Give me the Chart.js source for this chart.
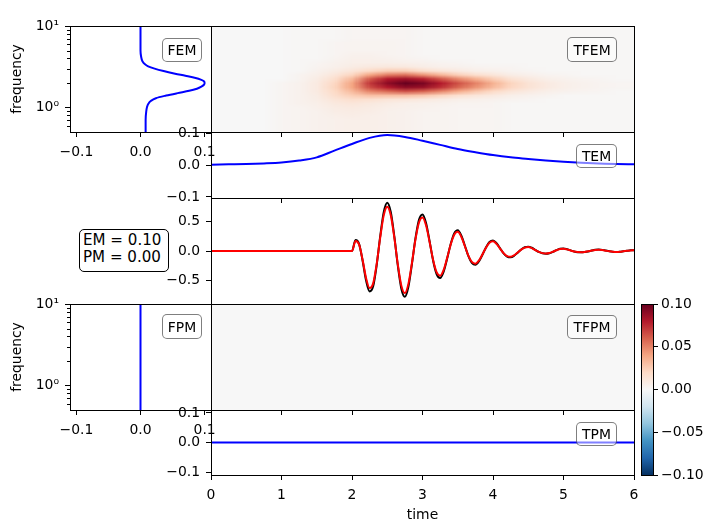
<!DOCTYPE html>
<html lang="en">
<head>
<meta charset="UTF-8">
<title>Time-frequency misfits</title>
<script src="https://cdn.jsdelivr.net/npm/chart.js"></script>
<style>
  body { margin: 0; background: #fff; font-family: 'DejaVu Sans', sans-serif; }
  #fig { position: relative; width: 704px; height: 528px; overflow: hidden; background: #fff; }
  .panel { position: absolute; }
  .tag {
    position: absolute; box-sizing: border-box;
    border: 1px solid rgba(0, 0, 0, 0.5); border-radius: 5px;
    background: rgba(255, 255, 255, 0.5);
    font-size: 13.9px; color: #000;
    display: flex; align-items: center; justify-content: center;
  }
  #misfit {
    position: absolute; left: 79px; top: 229px; width: 90px; height: 43px;
    box-sizing: border-box; border: 1px solid #000; border-radius: 5px;
    background: #fff; font-size: 15.1px; line-height: 16.8px;
    padding: 2px 0 0 3px; white-space: pre;
  }
</style>
</head>
<body>
<div id="fig">
  <div class="panel" style="left:0;top:0"><canvas id="fem" width="221" height="170"></canvas></div>
  <div class="panel" style="left:200px;top:0"><canvas id="tfem" width="454" height="140"></canvas></div>
  <div class="panel" style="left:150px;top:122px"><canvas id="tem" width="504" height="84"></canvas></div>
  <div class="panel" style="left:150px;top:188px"><canvas id="sig" width="504" height="124"></canvas></div>
  <div class="panel" style="left:0;top:278px"><canvas id="fpm" width="221" height="170"></canvas></div>
  <div class="panel" style="left:200px;top:278px"><canvas id="tfpm" width="454" height="140"></canvas></div>
  <div class="panel" style="left:150px;top:400px"><canvas id="tpm" width="520" height="128"></canvas></div>
  <div class="panel" style="left:630px;top:294px"><canvas id="cbar" width="74" height="190"></canvas></div>

  <div class="tag" style="left:162px;top:38px;width:40px;height:24px">FEM</div>
  <div class="tag" style="left:567px;top:37px;width:50px;height:25px">TFEM</div>
  <div class="tag" style="left:576px;top:144px;width:41px;height:24px">TEM</div>
  <div class="tag" style="left:162px;top:314px;width:40px;height:25px">FPM</div>
  <div class="tag" style="left:567px;top:315px;width:50px;height:24px">TFPM</div>
  <div class="tag" style="left:576px;top:422px;width:41px;height:24px">TPM</div>
  <div id="misfit">EM = 0.10
PM = 0.00</div>
</div>

<script>
  // ---- axes ----
  const timeTicks = [0, 1, 2, 3, 4, 5, 6];
  const timeTickLabels = ['0', '1', '2', '3', '4', '5', '6'];
  const misfitTicks = [-0.1, 0, 0.1];
  const misfitTickLabels = ['\u22120.1', '0.0', '0.1'];
  const sigTicks = [-0.5, 0, 0.5];
  const sigTickLabels = ['\u22120.5', '0.0', '0.5'];
  const freqMajorTicks = [1, 10];
  const freqMajorLabels = ['10\u2070', '10\u00b9'];
  const freqMinorTicks = [0.6, 0.7, 0.8, 0.9, 2, 3, 4, 5, 6, 7, 8, 9];
  const cbTicks = [-0.1, -0.05, 0, 0.05, 0.1];
  const cbTickLabels = ['\u22120.10', '\u22120.05', '0.00', '0.05', '0.10'];

  // RdBu_r
  const cmapStops = ['#053061', '#2166ac', '#4393c3', '#92c5de', '#d1e5f0', '#f7f7f7',
                     '#fddbc7', '#f4a582', '#d6604d', '#b2182b', '#67001f'];

  // ---- frequency envelope / phase misfit ----
  const femFreqs = [0.5, 0.7, 0.9, 1.0, 1.1, 1.2, 1.3, 1.4, 1.5, 1.6, 1.7, 1.8, 1.9, 2.0,
                    2.1, 2.2, 2.3, 2.45, 2.6, 2.8, 3.0, 3.2, 3.4, 3.7, 4.2, 5.0, 7.0, 10.0];
  const femValues = [0.008, 0.008, 0.009, 0.010, 0.012, 0.016, 0.024, 0.040, 0.058, 0.076, 0.088, 0.095, 0.099, 0.100,
                     0.099, 0.094, 0.086, 0.070, 0.054, 0.036, 0.022, 0.012, 0.007, 0.003, 0.001, 0.0, 0.0, 0.0];
  const fpmFreqs = [0.5, 10.0];
  const fpmValues = [0.0, 0.0];

  // ---- time envelope / phase misfit ----
  const temTimes = [0, 0.25, 0.5, 0.75, 1.0, 1.25, 1.5, 1.75, 2.0, 2.25, 2.5, 2.75, 3.0,
                    3.25, 3.5, 3.75, 4.0, 4.25, 4.5, 4.75, 5.0, 5.25, 5.5, 5.75, 6.0];
  const temValues = [0.001, 0.002, 0.003, 0.005, 0.008, 0.014, 0.024, 0.045, 0.066, 0.085, 0.094, 0.088, 0.076,
                     0.063, 0.050, 0.040, 0.031, 0.024, 0.019, 0.014, 0.010, 0.007, 0.005, 0.003, 0.002];
  const tpmTimes = [0, 6];
  const tpmValues = [0.0, 0.0];

  // ---- signals: quiet until 2 s, then sampled every 0.05 s ----
  const sigOnset = 2.0, sigStep = 0.05;
  const sigRed = [0,
    0, 0.170, 0.111, -0.148, -0.461, -0.630, -0.550, -0.221, 0.227, 0.605,
    0.752, 0.607, 0.230, -0.228, -0.588, -0.715, -0.558, -0.204, 0.195, 0.485,
    0.570, 0.437, 0.156, -0.147, -0.360, -0.420, -0.320, -0.116, 0.110, 0.275,
    0.325, 0.243, 0.085, -0.077, -0.186, -0.215, -0.162, -0.059, 0.056, 0.139,
    0.165, 0.121, 0.042, -0.037, -0.087, -0.098, -0.073, -0.026, 0.024, 0.058,
    0.068, 0.050, 0.017, -0.015, -0.036, -0.042, -0.034, -0.013, 0.013, 0.034,
    0.040, 0.028, 0.009, -0.008, -0.018, -0.020, -0.016, -0.006, 0.007, 0.018,
    0.022, 0.017, 0.006, -0.005, -0.012, -0.015, -0.012, -0.004, 0.004, 0.010,
    0.012];
  const sigBlack = [0,
    0, 0.185, 0.121, -0.161, -0.502, -0.687, -0.600, -0.241, 0.247, 0.659,
    0.820, 0.662, 0.251, -0.249, -0.641, -0.779, -0.608, -0.222, 0.213, 0.529,
    0.621, 0.476, 0.170, -0.160, -0.392, -0.458, -0.349, -0.126, 0.120, 0.300,
    0.354, 0.265, 0.093, -0.084, -0.203, -0.234, -0.177, -0.064, 0.061, 0.152,
    0.180, 0.132, 0.046, -0.040, -0.095, -0.107, -0.080, -0.028, 0.026, 0.063,
    0.074, 0.055, 0.019, -0.016, -0.039, -0.046, -0.037, -0.014, 0.014, 0.037,
    0.044, 0.031, 0.010, -0.009, -0.020, -0.022, -0.017, -0.007, 0.008, 0.020,
    0.024, 0.019, 0.007, -0.005, -0.013, -0.016, -0.013, -0.004, 0.004, 0.011,
    0.013];
  const sigTimes = sigRed.map((_, i) => i === 0 ? 0 : sigOnset + (i - 1) * sigStep);

  // ---- time-frequency envelope misfit: one column per time, rows from 0.5 Hz up to 10 Hz ----
  const tfTimes = temTimes;
  const tfFreqs = [0.5, 0.56, 0.63, 0.71, 0.79, 0.89, 1.0, 1.12, 1.26, 1.41, 1.58, 1.78, 2.0, 2.24,
                   2.51, 2.82, 3.16, 3.55, 3.98, 4.47, 5.01, 5.62, 6.31, 7.08, 7.94, 8.91, 10.0];
  const tfemCols = [
    [0,0,0,0,0,0,0,0,0,0,0,0,0,0,0,0,0,0,0,0,0,0,0,0,0,0,0],
    [0,0,0,0,0,0,0,0,0,0,0,0,0,0,0,0,0,0,0,0,0,0,0,0,0,0,0],
    [0,0,0,0,0,0,0,0,0,0,0,0,0,0,0,0,0,0,0,0,0,0,0,0,0,0,0],
    [0,0,0,0,0,0,0,0,0,0,0,0,0,0,0,0,0,0,0,0,0,0,0,0,0,0,0],
    [0.002,0.002,0.002,0.002,0.002,0.002,0.002,0.002,0.002,0.002,0.002,0.002,0.002,0,0,0,0,0,0,0,0,0,0,0,0,0,0],
    [0.003,0.003,0.003,0.003,0.003,0.003,0.003,0.004,0.004,0.004,0.004,0.004,0.004,0.003,0.003,0.001,0.001,0.001,0.001,0.001,0.001,0.001,0.001,0.001,0.001,0.001,0.001],
    [0.004,0.004,0.004,0.004,0.004,0.004,0.005,0.006,0.007,0.008,0.009,0.009,0.009,0.008,0.006,0.004,0.003,0.002,0.001,0.001,0.001,0.001,0.001,0.001,0.001,0.001,0.001],
    [0.005,0.005,0.005,0.005,0.006,0.007,0.008,0.010,0.013,0.017,0.020,0.022,0.021,0.017,0.012,0.008,0.005,0.004,0.003,0.002,0.002,0.002,0.002,0.001,0.001,0.001,0.001],
    [0.006,0.006,0.006,0.006,0.007,0.008,0.009,0.012,0.017,0.025,0.033,0.040,0.040,0.033,0.022,0.013,0.008,0.006,0.005,0.004,0.003,0.003,0.003,0.002,0.002,0.002,0.002],
    [0.006,0.006,0.006,0.006,0.006,0.007,0.008,0.010,0.016,0.030,0.050,0.066,0.072,0.062,0.040,0.020,0.010,0.006,0.005,0.004,0.003,0.003,0.003,0.002,0.002,0.002,0.002],
    [0.005,0.005,0.005,0.005,0.005,0.005,0.006,0.008,0.013,0.030,0.058,0.080,0.090,0.080,0.052,0.025,0.011,0.006,0.004,0.003,0.003,0.003,0.003,0.002,0.002,0.002,0.002],
    [0.004,0.004,0.004,0.004,0.004,0.004,0.005,0.006,0.012,0.030,0.065,0.090,0.100,0.085,0.055,0.025,0.010,0.005,0.003,0.002,0.002,0.002,0.002,0.002,0.002,0.002,0.002],
    [0.003,0.003,0.003,0.003,0.003,0.003,0.004,0.005,0.010,0.027,0.060,0.087,0.095,0.078,0.045,0.018,0.007,0.004,0.002,0.001,0.001,0.001,0.001,0.001,0.001,0.001,0.001],
    [0.003,0.003,0.003,0.003,0.003,0.003,0.003,0.004,0.008,0.022,0.050,0.074,0.080,0.063,0.034,0.013,0.005,0.003,0.001,0.001,0.001,0.001,0.001,0.001,0.001,0.001,0.001],
    [0.002,0.002,0.002,0.002,0.002,0.002,0.002,0.003,0.006,0.016,0.038,0.058,0.064,0.048,0.024,0.009,0.004,0.002,0.001,0.001,0.001,0.001,0.001,0.001,0.001,0.001,0.001],
    [0.002,0.002,0.002,0.002,0.002,0.002,0.002,0.003,0.005,0.012,0.028,0.045,0.050,0.036,0.017,0.006,0.003,0.001,0.001,0.001,0.001,0.001,0.001,0.001,0.001,0.001,0.001],
    [0.002,0.002,0.002,0.002,0.002,0.002,0.002,0.002,0.004,0.009,0.020,0.032,0.035,0.025,0.012,0.005,0.002,0.001,0.001,0.001,0.001,0.001,0.001,0.001,0.001,0.001,0.001],
    [0.001,0.001,0.001,0.001,0.001,0.001,0.001,0.001,0.003,0.006,0.013,0.021,0.022,0.015,0.007,0.003,0.002,0.001,0.001,0.001,0.001,0.001,0.001,0.001,0.001,0.001,0.001],
    [0.001,0.001,0.001,0.001,0.001,0.001,0.001,0.001,0.002,0.004,0.009,0.014,0.014,0.010,0.005,0.002,0.001,0.001,0.001,0.001,0.001,0.001,0.001,0.001,0.001,0.001,0.001],
    [0.001,0.001,0.001,0.001,0.001,0.001,0.001,0.001,0.001,0.003,0.006,0.009,0.009,0.006,0.003,0.001,0.001,0.001,0.001,0.001,0.001,0.001,0.001,0.001,0.001,0.001,0.001],
    [0.001,0.001,0.001,0.001,0.001,0.001,0.001,0.001,0.001,0.001,0.004,0.006,0.006,0.004,0.002,0.001,0.001,0.001,0.001,0.001,0.001,0.001,0.001,0.001,0.001,0.001,0.001],
    [0.001,0.001,0.001,0.001,0.001,0.001,0.001,0.001,0.001,0.001,0.003,0.004,0.004,0.003,0.001,0.001,0.001,0.001,0.001,0.001,0.001,0.001,0.001,0.001,0.001,0.001,0.001],
    [0.001,0.001,0.001,0.001,0.001,0.001,0.001,0.001,0.001,0.001,0.002,0.003,0.003,0.002,0.001,0.001,0.001,0.001,0.001,0.001,0.001,0.001,0.001,0.001,0.001,0.001,0.001],
    [0.001,0.001,0.001,0.001,0.001,0.001,0.001,0.001,0.001,0.001,0.001,0.002,0.002,0.001,0.001,0.001,0.001,0.001,0.001,0.001,0.001,0.001,0.001,0.001,0.001,0.001,0.001],
    [0.001,0.001,0.001,0.001,0.001,0.001,0.001,0.001,0.001,0.001,0.001,0.002,0.002,0.001,0.001,0.001,0.001,0.001,0.001,0.001,0.001,0.001,0.001,0.001,0.001,0.001,0.001]
  ];
  // phase misfit is zero everywhere
  const tfpmTimes = [0, 6];
  const tfpmFreqs = [0.5, 10.0];
  const tfpmCols = [[0, 0], [0, 0]];

  // axis limits
  const timeMin = 0, timeMax = 6;
  const freqMin = 0.5, freqMax = 10;
  const fLimit = 0.11, temLimit = 0.1034, tpmLimit = 0.11, sigLimit = 0.9;
  const cbMin = -0.1, cbMax = 0.1;

  Chart.defaults.font.family = "'DejaVu Sans', sans-serif";
  Chart.defaults.font.size = 13.9;
  Chart.defaults.color = '#000';

  function hexRgb(h) {
    return [1, 3, 5].map(i => parseInt(h.slice(i, i + 2), 16));
  }
  function cmap(v) {
    let f = (v - cbMin) / (cbMax - cbMin);
    f = Math.min(1, Math.max(0, f));
    const p = f * (cmapStops.length - 1);
    const i = Math.min(Math.floor(p), cmapStops.length - 2);
    const u = p - i;
    const a = hexRgb(cmapStops[i]), b = hexRgb(cmapStops[i + 1]);
    return a.map((c, k) => Math.round(c + (b[k] - c) * u));
  }

  // top/right spines
  Chart.register({
    id: 'frame',
    afterDraw(chart) {
      const { ctx, chartArea: a } = chart;
      const l = Math.round(a.left) + 0.5, t = Math.round(a.top) + 0.5;
      const r = Math.round(a.right) + 0.5, b = Math.round(a.bottom) + 0.5;
      ctx.save();
      ctx.strokeStyle = '#000';
      ctx.lineWidth = 1;
      ctx.strokeRect(l, t, r - l, b - t);
      ctx.restore();
    }
  });

  const minorTicks = {
    id: 'minorTicks',
    afterDraw(chart, args, opts) {
      const { ctx, chartArea: a, scales: { y } } = chart;
      ctx.save();
      ctx.strokeStyle = '#000';
      ctx.lineWidth = 1;
      ctx.beginPath();
      opts.values.forEach(v => {
        const py = Math.round(y.getPixelForValue(v)) + 0.5;
        ctx.moveTo(a.left - 3, py);
        ctx.lineTo(a.left, py);
      });
      ctx.stroke();
      ctx.restore();
    }
  };

  function heatmap(times, freqs, cols) {
    return {
      id: 'heatmap',
      beforeDatasetsDraw(chart) {
        const { ctx, chartArea: a, scales: { x, y } } = chart;
        const nc = times.length, nr = freqs.length;
        const img = document.createElement('canvas');
        img.width = nc; img.height = nr;
        const ictx = img.getContext('2d');
        const im = ictx.createImageData(nc, nr);
        for (let c = 0; c < nc; c++) {
          for (let r = 0; r < nr; r++) {
            const rgb = cmap(cols[c][r]);
            const k = ((nr - 1 - r) * nc + c) * 4;
            im.data[k] = rgb[0]; im.data[k + 1] = rgb[1]; im.data[k + 2] = rgb[2]; im.data[k + 3] = 255;
          }
        }
        ictx.putImageData(im, 0, 0);
        const dt = (times[1] - times[0]) / 2;
        const dl = (Math.log10(freqs[1]) - Math.log10(freqs[0])) / 2;
        const x0 = x.getPixelForValue(times[0] - dt);
        const x1 = x.getPixelForValue(times[nc - 1] + dt);
        const y0 = y.getPixelForValue(Math.pow(10, Math.log10(freqs[nr - 1]) + dl));
        const y1 = y.getPixelForValue(Math.pow(10, Math.log10(freqs[0]) - dl));
        ctx.save();
        ctx.beginPath();
        ctx.rect(a.left, a.top, a.width, a.height);
        ctx.clip();
        ctx.imageSmoothingEnabled = true;
        ctx.imageSmoothingQuality = 'low';
        ctx.drawImage(img, x0, y0, x1 - x0, y1 - y0);
        ctx.restore();
      }
    };
  }

  // fixed axis thickness, and no extra room for labels that run past the plot edges
  const fixed = px => s => {
    if (s.isHorizontal()) s.height = px; else s.width = px;
    s.paddingTop = 0; s.paddingBottom = 0; s.paddingLeft = 0; s.paddingRight = 0;
  };
  const setTicks = vals => s => { s.ticks = vals.map(v => ({ value: v })); };
  const labeller = (vals, labels) => v => { const i = vals.indexOf(v); return i < 0 ? '' : labels[i]; };
  const tickGrid = { display: true, drawOnChartArea: false, drawTicks: true, tickLength: 5, tickColor: '#000', tickWidth: 1 };

  function base(padding, scales, extra) {
    return Object.assign({
      responsive: false, animation: false, devicePixelRatio: 1, events: [],
      layout: { padding, autoPadding: false },
      plugins: { legend: { display: false }, tooltip: { enabled: false } },
      scales
    }, extra || {});
  }

  function timeAxis(height, labels) {
    const ax = {
      type: 'linear', min: timeMin, max: timeMax,
      afterBuildTicks: setTicks(timeTicks), afterFit: fixed(height),
      grid: tickGrid, border: { display: false },
      ticks: { display: labels, padding: 7, autoSkip: false, maxRotation: 0,
               callback: labeller(timeTicks, timeTickLabels) }
    };
    if (labels) ax.title = { display: true, text: 'time', padding: { top: 4, bottom: 4 } };
    return ax;
  }
  function valueAxis(lim, ticks, labels) {
    return {
      type: 'linear', min: -lim, max: lim,
      afterBuildTicks: setTicks(ticks), afterFit: fixed(61),
      grid: tickGrid, border: { display: false },
      ticks: { padding: 6, autoSkip: false, callback: labeller(ticks, labels) }
    };
  }
  function freqAxis() {
    return {
      type: 'logarithmic', min: freqMin, max: freqMax,
      afterBuildTicks: setTicks(freqMajorTicks), afterFit: fixed(70),
      grid: tickGrid, border: { display: false },
      ticks: { padding: 6, autoSkip: false, callback: labeller(freqMajorTicks, freqMajorLabels) },
      title: { display: true, text: 'frequency', padding: { top: 9, bottom: 9 } }
    };
  }
  function misfitAxis() {
    return {
      type: 'linear', min: -fLimit, max: fLimit,
      afterBuildTicks: setTicks(misfitTicks), afterFit: fixed(38),
      grid: tickGrid, border: { display: false },
      ticks: { padding: 7, autoSkip: false, maxRotation: 0, callback: labeller(misfitTicks, misfitTickLabels) }
    };
  }
  const pts = (xs, ys) => xs.map((v, i) => ({ x: v, y: ys[i] }));
  const lineStyle = (color, order) => ({ borderColor: color, borderWidth: 2, pointRadius: 0,
                                         cubicInterpolationMode: 'monotone', order });

  function freqPanel(id, freqs, values) {
    new Chart(id, {
      type: 'line',
      data: { datasets: [Object.assign({ data: pts(values, freqs) }, lineStyle('#0000ff', 1))] },
      options: base({ left: 0, right: 10, top: 26, bottom: 0 },
        { x: misfitAxis(), y: freqAxis() },
        { indexAxis: 'y', plugins: { legend: { display: false }, tooltip: { enabled: false },
                                     minorTicks: { values: freqMinorTicks } } }),
      plugins: [minorTicks]
    });
  }
  function tfPanel(id, times, freqs, cols) {
    new Chart(id, {
      type: 'scatter',
      data: { datasets: [] },
      options: base({ left: 11, right: 20, top: 26, bottom: 0 }, {
        x: timeAxis(8, false),
        y: { type: 'logarithmic', min: freqMin, max: freqMax, display: false }
      }),
      plugins: [heatmap(times, freqs, cols)]
    });
  }
  function timePanel(id, datasets, yAxis, xHeight, xLabels, right) {
    new Chart(id, {
      type: 'line',
      data: { datasets },
      options: base({ left: 0, right, top: 10, bottom: 0 },
        { x: timeAxis(xHeight, xLabels), y: yAxis })
    });
  }

  freqPanel('fem', femFreqs, femValues);
  tfPanel('tfem', tfTimes, tfFreqs, tfemCols);
  timePanel('tem', [Object.assign({ data: pts(temTimes, temValues) }, lineStyle('#0000ff', 1))],
            valueAxis(temLimit, misfitTicks, misfitTickLabels), 8, false, 20);
  timePanel('sig', [
      Object.assign({ data: pts(sigTimes, sigRed) }, lineStyle('#ff0000', 1)),
      Object.assign({ data: pts(sigTimes, sigBlack) }, lineStyle('#000000', 2))
    ], valueAxis(sigLimit, sigTicks, sigTickLabels), 8, false, 20);
  freqPanel('fpm', fpmFreqs, fpmValues);
  tfPanel('tfpm', tfpmTimes, tfpmFreqs, tfpmCols);
  timePanel('tpm', [Object.assign({ data: pts(tpmTimes, tpmValues) }, lineStyle('#0000ff', 1))],
            valueAxis(tpmLimit, misfitTicks, misfitTickLabels), 53, true, 36);

  // colour bar
  new Chart('cbar', {
    type: 'bar',
    data: {
      labels: [''],
      datasets: [{
        data: [[cbMin, cbMax]],
        borderWidth: 0, barPercentage: 1, categoryPercentage: 1,
        backgroundColor(c) {
          const a = c.chart.chartArea;
          if (!a) return cmapStops[5];
          const g = c.chart.ctx.createLinearGradient(0, a.bottom, 0, a.top);
          cmapStops.forEach((col, i) => g.addColorStop(i / (cmapStops.length - 1), col));
          return g;
        }
      }]
    },
    options: base({ left: 11, right: 0, top: 10, bottom: 9 }, {
      x: { display: false },
      y: {
        position: 'right', min: cbMin, max: cbMax,
        afterBuildTicks: setTicks(cbTicks), afterFit: fixed(51),
        grid: tickGrid, border: { display: false },
        ticks: { padding: 3, autoSkip: false, callback: labeller(cbTicks, cbTickLabels) }
      }
    })
  });
</script>
</body>
</html>
